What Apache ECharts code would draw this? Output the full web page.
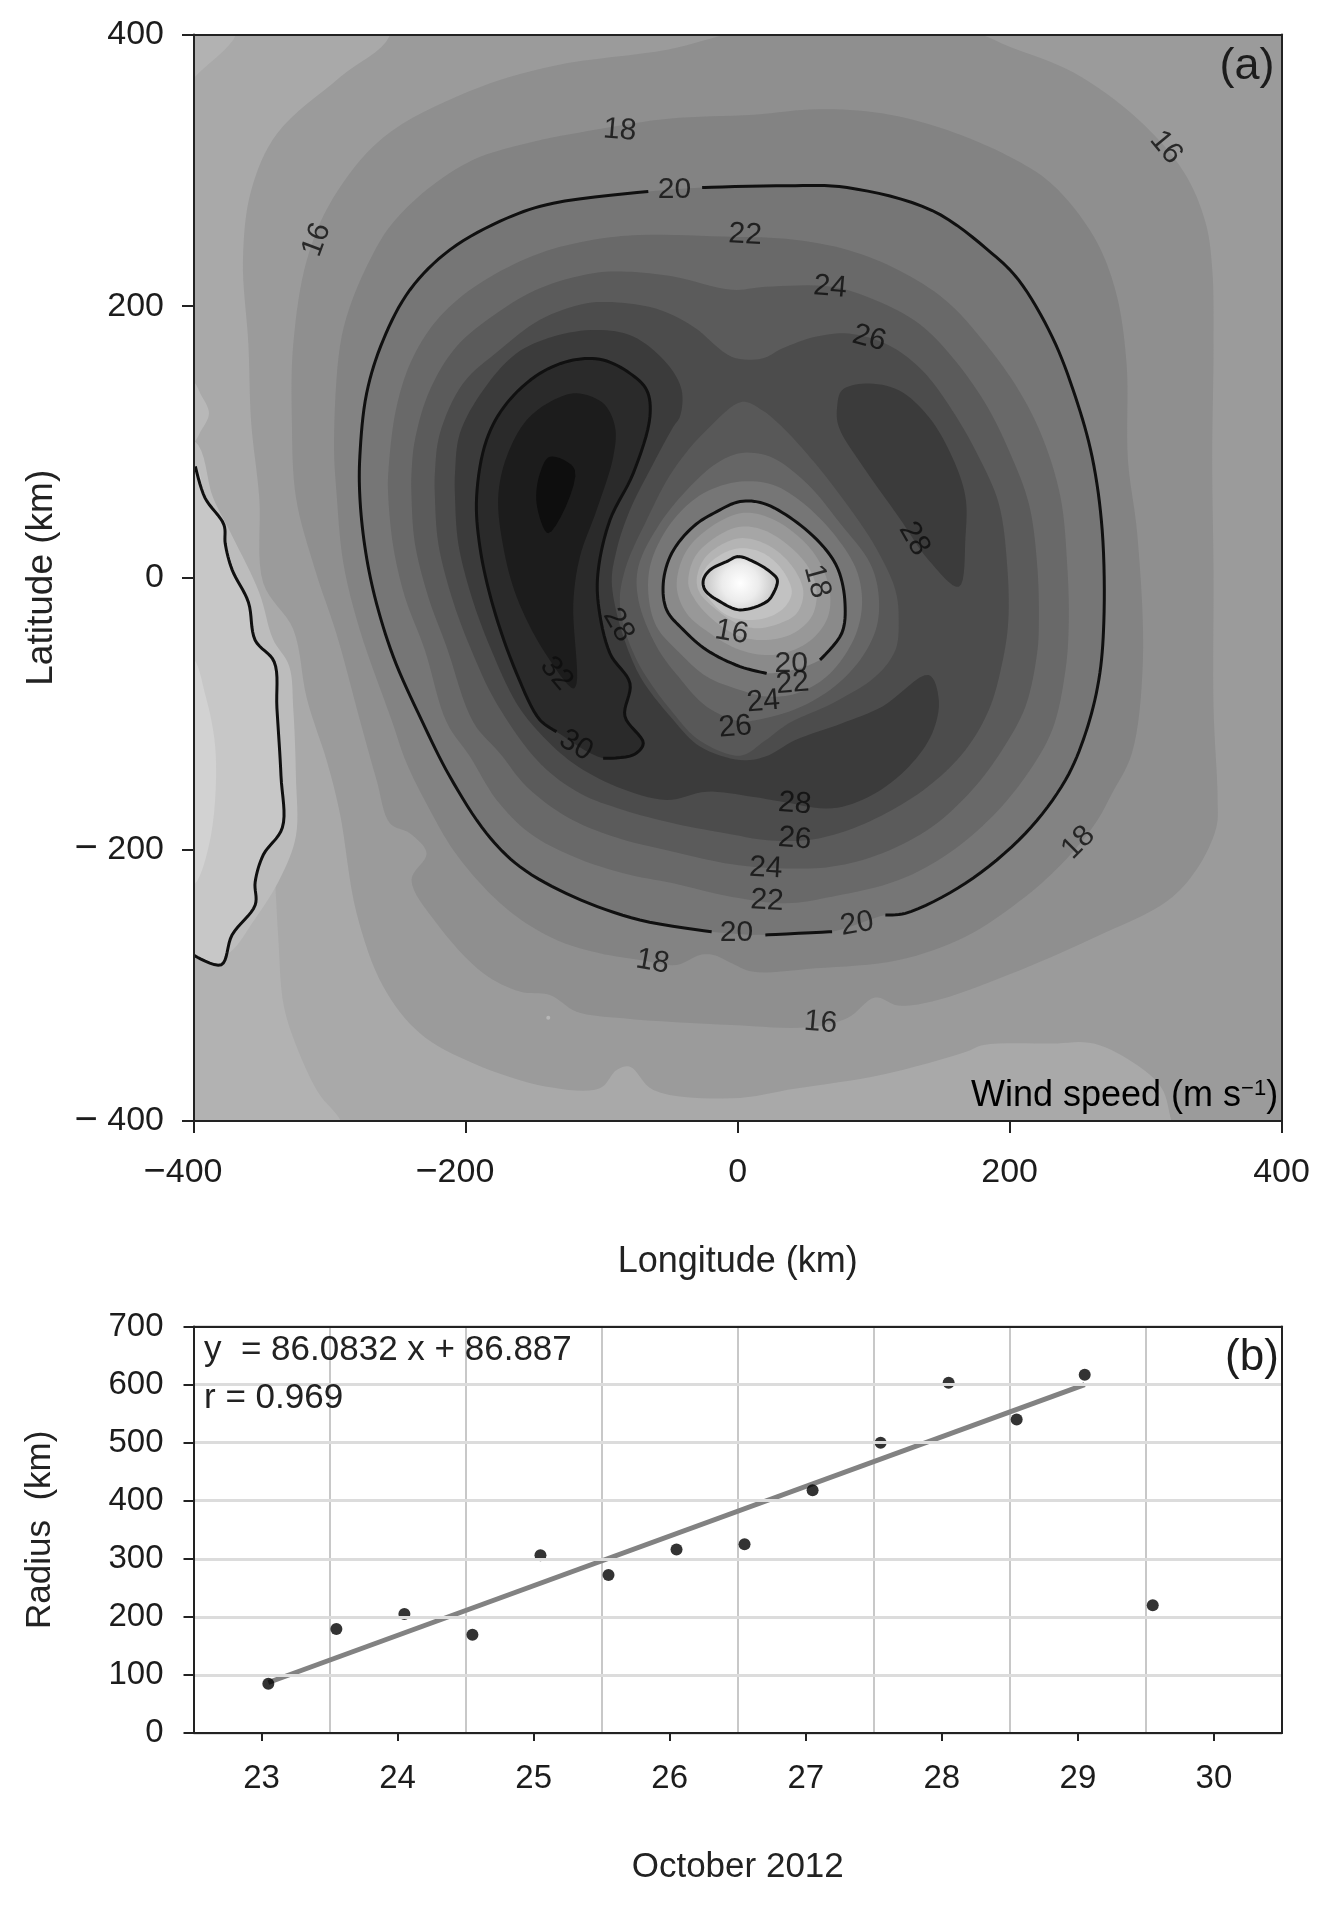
<!DOCTYPE html>
<html>
<head>
<meta charset="utf-8">
<style>html,body{margin:0;padding:0;background:#fff}#chart{width:1336px;height:1906px}</style>
<script src="https://cdn.jsdelivr.net/npm/echarts@6/dist/echarts.min.js"></script>
</head>
<body>
<div id="chart"></div>
<script>
// ---------- panel (a): wind-speed band outlines, [longitude km, latitude km] ----------
const band1 = [[-369,420],[-369,400],[-399,369],[-425,340],[-425,-100],[-345,-150],[-340,-230],[-338,-265],[-334,-315],[-323,-349],[-308,-380],[-292,-400],[-280,-440],[450,-440],[450,450],[-369,450]];
const leftBump = [[-420,146],[-402,146],[-395,135],[-389,121],[-395,108],[-402,98],[-420,98]];
const leftOuter = [[-400,101],[-386,59],[-372,31],[-352,-11],[-342,-45],[-330,-65],[-327,-96],[-325,-147],[-325,-190],[-336,-220],[-355,-251],[-377,-278],[-402,-278],[-440,-278],[-440,101]];
const contourLeft = [[-399,82],[-392,59],[-378,39],[-377,25],[-372,6],[-360,-18],[-355,-46],[-341,-62],[-339,-96],[-336,-146],[-335,-184],[-349,-204],[-355,-224],[-355,-241],[-372,-263],[-380,-285],[-400,-278]];
const leftEdge = [[-440,-278],[-440,82]];
const leftSliver = [[-420,-58],[-402,-58],[-392,-85],[-384,-130],[-389,-197],[-402,-228],[-420,-228]];
const band2 = [[-256,440],[-256,399],[-292,369],[-339,327],[-358,285],[-364,234],[-360,172],[-358,115],[-352,59],[-349,-4],[-327,-38],[-317,-89],[-302,-136],[-292.7,-173.4],[-280.4,-247],[-260.8,-301],[-233.8,-335.4],[-194.6,-357.5],[-140.6,-374.7],[-101.4,-375.9],[-89.1,-362.4],[-79.3,-360],[-62.1,-377.2],[-4.3,-383.3],[43,-376],[106,-366],[168,-349],[181,-344],[231,-343],[262,-343],[294,-359],[312,-376],[319,-400],[330,-440],[450,-440],[450,450]];
const band3 = [[-4,401],[40,408],[120,408],[175,401],[200,391],[247,372],[294,338],[328,299],[344,262],[349,228],[350,172],[349,87],[350,3],[350,-96],[353,-163],[352,-184],[338,-214],[316,-238],[262,-265],[200,-292],[143,-312],[118,-315],[101,-309],[81,-324],[52,-331],[-4.3,-329.3],[-84.2,-324.4],[-118.6,-319.5],[-138.2,-307.2],[-160.3,-304.7],[-187.2,-291.2],[-221.6,-254.4],[-240,-222.5],[-228.9,-202.9],[-241.2,-188.2],[-255.9,-180.8],[-265.7,-148.9],[-278,-104.7],[-295,-42],[-311,6],[-325,59],[-328,115],[-327,172],[-317,234],[-298,279],[-261,324],[-198,358],[-135,377],[-51,389]];
const band4 = [[-51,338],[12,341],[59,345],[106,342],[153,330],[200,310],[231,290],[262,251],[278,211],[286,158],[287,87],[294,31],[298,-62],[290,-129],[275.4,-158.7],[263.1,-180.8],[241.1,-207.8],[211.6,-234.8],[167.5,-264.3],[118.4,-281.5],[57.1,-287.6],[10.5,-290],[-4.3,-283.9],[-18,-277.7],[-27.8,-277.7],[-45,-285.1],[-72,-281.4],[-101.4,-276.5],[-133.3,-266.7],[-162.7,-249.5],[-187.2,-227.4],[-209.3,-200.4],[-226.5,-171],[-243.6,-136.6],[-254.7,-104.7],[-278,-38.5],[-290,10],[-295,60],[-297,100],[-292.7,170],[-285.3,199.7],[-270.6,234],[-255.9,258.6],[-228.9,285.6],[-194.6,307.7],[-155,320],[-104,330]];
const contour20a = [[-26.2,287.3],[36.5,288.7],[80.4,287.3],[143,270.4],[187.1,238.7],[206.7,219.1],[231.3,177.4],[248.4,133.2],[260.7,89],[268.1,35],[269.3,-32.8],[265.6,-75.3],[255.8,-114.6],[241.1,-148.9],[211.6,-188.2],[167.5,-225],[123.3,-247.1],[108.6,-248.3]];
const contour20b = [[69.4,-260.6],[20.3,-263]];
const contour20c = [[-19.2,-260.6],[-72,-252],[-121,-234.8],[-160.3,-212.7],[-184.8,-188.2],[-211.8,-146.4],[-232.6,-104.8],[-253.4,-58.1],[-267,-14],[-274.3,22.8],[-278,59.7],[-278,89.2],[-273,135.9],[-260.8,175.1],[-241.2,211.9],[-211.8,241.4],[-170,264.7],[-135.7,275.8],[-65.8,284.4]];
const band6 = [[-4.2,251],[20.3,250.5],[44.9,248.5],[81.6,241.2],[118.4,226.4],[152.8,204.4],[182.2,172.4],[206.7,138.1],[224,103.7],[237.4,59.5],[242.3,10.4],[243.5,-32.8],[241.1,-67.9],[231.3,-112.1],[211.6,-146.5],[187.1,-175.9],[155.2,-202.9],[118.4,-222.6],[69.4,-234.8],[35,-239.7],[-4.2,-235],[-47.4,-225],[-84.2,-217.6],[-121,-205.3],[-152.9,-188.2],[-177.4,-163.6],[-197,-131.7],[-214.2,-106.3],[-230.2,-53.2],[-244.9,-14],[-253.4,22.8],[-257.1,59.7],[-257.1,77],[-251,126],[-238.7,162.8],[-219.1,192.3],[-189.7,216.9],[-145.5,239],[-106.3,248.8],[-72,252.4]];
const band7 = [[-4.2,212],[20.3,214.2],[69.4,214.2],[101.3,204.4],[133.2,187.2],[157.7,162.6],[182.2,128.3],[199.4,93.9],[214.1,54.6],[220.2,10.4],[221.5,-32.8],[220.2,-55.6],[211.6,-94.9],[194.5,-126.8],[172.4,-156.3],[143,-183.3],[106.2,-202.9],[69.4,-212.7],[35,-214],[-4.2,-211],[-47.4,-201.7],[-91.6,-190.6],[-125.9,-175.9],[-155.3,-153.8],[-175,-129.2],[-194.6,-106.3],[-214.2,-50.8],[-227.7,-14],[-237.5,25.3],[-240,59.7],[-240,77],[-237.5,101.5],[-226.5,138.3],[-206.9,170.2],[-177.4,194.8],[-145.5,213.2],[-106.3,224.2],[-81.8,225.4],[-47.4,221.8]];
const band8 = [[-4.2,162.6],[17.9,161.4],[32.6,168.8],[57.1,177.4],[81.6,179.8],[111.1,171.2],[135.6,152.8],[157.7,123.4],[177.3,89],[192,54.6],[198.1,10.4],[199,-32],[194.5,-63],[184.7,-97.4],[167.5,-126.8],[143,-151.4],[113.5,-171],[81.6,-185.7],[52.2,-193.1],[20.3,-193.1],[-4.3,-189],[-47.4,-180.8],[-84.2,-171],[-116.1,-158.7],[-145.5,-136.6],[-177.4,-92.5],[-197,-50.8],[-210.5,-14],[-220.3,25.3],[-222.8,59.7],[-222.8,77],[-219.1,106.4],[-202,143.2],[-175,167.8],[-145.5,189.9],[-111.2,202.1],[-81.8,202.1],[-57.2,197.2],[-32.7,184.9]];
const band9West = [[-103.8,182.5],[-76.9,177.6],[-52.3,158],[-41.3,138.3],[-42.5,118.7],[-47.4,111.2],[-64.6,79.3],[-79.3,49.9],[-89.1,20.4],[-92.5,-6.6],[-74.4,-67.9],[-47.4,-104.7],[-27.8,-124.3],[1.7,-134.2],[20.3,-131.7],[42.4,-119.5],[76.7,-107.2],[106.2,-94.9],[140.5,-71.6],[147.9,-90],[143,-114.6],[125.8,-139.1],[98.8,-160],[69.4,-169.8],[32.6,-164.9],[10.5,-161.2],[-22.9,-157.5],[-52.3,-163.6],[-89.1,-153.8],[-121,-136.6],[-145.5,-114.5],[-162.7,-92.5],[-182.3,-50.8],[-195.8,-14],[-205.6,25.3],[-208,59.7],[-208,77],[-204.4,106.4],[-187.2,138.3],[-162.7,165.3],[-135.7,177.6]];
const band9East = [[76.7,138.1],[94,143],[118.4,138.1],[140.5,118.4],[157.7,89],[167.5,59.5],[167.5,30.1],[162.6,-6.7],[140.5,12.9],[118.4,44.8],[94,79.2],[74.3,111.1],[73.1,125.8]];
const contour30 = [[-99,-132.9],[-76.9,-130.5],[-69.5,-121.9],[-83,-102],[-79.3,-77.8],[-94,-55.7],[-102.6,-18.9],[-102.6,5.7],[-94,42.5],[-76.9,76.9],[-64.6,118.6],[-67,138.2],[-79.3,150.5],[-99,160.3],[-121,160.3],[-145.5,150.5],[-170,128.4],[-184.8,101.4],[-192.1,59.7],[-189.7,22.8],[-179.9,-21.3],[-162.7,-70.4],[-145.5,-104.7],[-133.3,-113.3]];
const band11 = [[-118.6,135.8],[-98.9,128.4],[-90.3,111.2],[-91.6,89.1],[-103.8,49.9],[-116.1,15.5],[-121,-18.9],[-118.6,-77.8],[-121,-81.5],[-143.1,-53.2],[-162.7,-14],[-172.5,22.8],[-176.2,59.7],[-170,89.1],[-155.3,116.1],[-135.7,130.8]];
const band12 = [[-138.2,89.1],[-119.8,79.3],[-139.4,32.7],[-148,54.8],[-145.5,76.9]];
const eye1 = [[3.2,129.5],[17.9,123.4],[32.6,111.1],[57.1,84.1],[81.6,52.2],[101.3,22.7],[116,-9.2],[118.4,-31.1],[116,-53.2],[101.3,-72.8],[69.4,-92.5],[37.5,-107.2],[20,-120],[1.7,-131],[-27.8,-120],[-47.4,-99.8],[-74.4,-60.5],[-86.6,-21.3],[-83,5.8],[-67,42.6],[-47.4,79.4],[-22.9,108.8]];
const eye2 = [[1.7,91.7],[23.7,89.2],[50.7,69.6],[75.3,40.1],[97.3,10.7],[103.5,-11.4],[102.2,-36],[90,-60.5],[67.9,-82.6],[40.9,-97.4],[13.9,-104.7],[1.7,-105.9],[-22.9,-94.9],[-43.7,-72.8],[-59.7,-50.7],[-73.1,-16.3],[-73.1,8.2],[-57.2,40.1],[-35.1,67.1],[-15.5,84.3]];
const eye3 = [[1.7,70.8],[26.2,68.3],[48.3,54.8],[70.3,32.7],[86.3,8.2],[91.2,-11.4],[90,-31.1],[82.6,-50.7],[65.4,-72.8],[43.4,-85.1],[21.3,-87.5],[1.7,-82.6],[-22.9,-72.8],[-42.5,-55.6],[-59.7,-36],[-65.8,-11.4],[-63.3,13.1],[-47.4,42.6],[-25.3,62.2]];
const contourEye = [[60.5,-60.5],[76.5,-40.9],[78.9,-18.8],[74,5.7],[63,22.9],[40.9,42.6],[18.8,54.8],[1.7,56.1],[-15.5,48.7],[-32.7,37.7],[-48.6,18],[-54.8,-4.1],[-52.3,-23.7],[-40,-38.4],[-22.9,-53.2],[1.7,-65.4],[21.3,-70.4]];
const eye5 = [[1.7,47.5],[21.3,45],[43.4,31.5],[59.3,13.1],[67.9,-11.4],[65.4,-31.1],[50.7,-48.3],[26.2,-56.8],[1.7,-53.2],[-20.4,-40.9],[-37.6,-26.2],[-44.9,-6.5],[-38.8,18],[-22.9,35.2]];
const eye6 = [[1.7,37.6],[18.8,35.2],[38.5,22.9],[53.2,5.7],[58.1,-11.4],[54.4,-28.6],[40.9,-40.9],[21.3,-45.8],[1.7,-43.3],[-18,-31.1],[-31.4,-16.3],[-36.4,-4.1],[-31.4,15.6],[-15.5,30.3]];
const eye7 = [[1.7,29.1],[16.4,26.6],[31.1,18],[43.4,3.3],[48.3,-11.4],[43.4,-26.2],[31.1,-33.5],[13.9,-37.2],[-0.8,-33.5],[-15.5,-23.7],[-27.8,-11.4],[-30.2,-1.6],[-25.3,13.1],[-13,23.8]];
const eye8 = [[1.7,21.7],[16.4,19.2],[28.6,10.7],[37.2,-1.6],[39.7,-11.4],[34.8,-21.3],[23.7,-28.6],[6.6,-31.1],[-8.2,-27.4],[-20.4,-16.3],[-27.3,-4.1],[-22.9,8.2],[-10.6,18]];
const contourCore = [[0.4,15.6],[11.5,11.9],[23.7,4.5],[29.1,-1.6],[26.2,-11.4],[21.3,-17.6],[1.7,-23.7],[-13,-17.6],[-24.1,-9],[-25.3,-1.6],[-20.4,5.7],[-8.2,11.9]];
const specks = [[-139.4,-323.9]];

// contour labels: longitude, latitude, value, tilt
const contourLabels = [
  [-86.8,329.4,'18',-5],[-46.5,285.5,'20',0],[5.4,252.4,'22',-3],[68,213.9,'24',-5],[96.7,176.3,'26',-15],
  [-309.7,248.8,'16',70],[315,316.8,'16',-50],[129.8,28.6,'28',-60],[58.2,-2.7,'18',-75],[-4.5,-40.3,'16',-10],
  [39.4,-63.5,'20',0],[40.3,-77.9,'22',5],[18.8,-91.3,'24',5],[-1.8,-110,'26',5],[-87.7,-34.9,'28',-60],
  [-133.4,-70.7,'32',-50],[-119,-123.5,'30',-30],[42,-166.5,'28',-5],[42,-192.4,'26',-5],[20.6,-213.9,'24',-3],
  [21.5,-238,'22',-3],[-0.9,-261.3,'20',0],[87.7,-255,'20',10],[-62.7,-282.8,'18',-10],[250.6,-195,'18',45],[60.9,-327.6,'16',-5]
];

// ---------- panel (b): radius against date ----------
const days = [23.05,23.55,24.05,24.55,25.05,25.55,26.05,26.55,27.05,27.55,28.05,28.55,29.05,29.55];
const radius = [85,179,205,169,306,272,316,325,418,500,603,540,617,220];
const fitDays = [23.05,29.05];
const fitRadius = [87,600];
const dayTicks = [23,24,25,26,27,28,29,30];
const dayGrid = [23.5,24.5,25.5,26.5,27.5,28.5,29.5];

const coreFill = new echarts.graphic.RadialGradient(0.5,0.5,0.62,[{offset:0,color:'#ffffff'},{offset:0.55,color:'#ececec'},{offset:1,color:'#cccccc'}]);
const layers = [
  [band1,'#a9a9a9'],[leftBump,'#b8b8b8'],[leftOuter,'#bcbcbc'],[[...contourLeft,...leftEdge],'#c7c7c7'],[leftSliver,'#d2d2d2'],
  [band2,'#9b9b9b'],[band3,'#8f8f8f'],[band4,'#838383'],
  [[...contour20a,...contour20b,...contour20c],'#767676'],
  [band6,'#696969'],[band7,'#5b5b5b'],[band8,'#4c4c4c'],[band9West,'#3b3b3b'],[band9East,'#3b3b3b'],
  [contour30,'#2a2a2a'],[band11,'#1c1c1c'],[band12,'#0e0e0e'],
  [eye1,'#585858'],[eye2,'#666666'],[eye3,'#767676'],[contourEye,'#8a8a8a'],
  [eye5,'#989898'],[eye6,'#a6a6a6'],[eye7,'#b4b4b4'],[eye8,'#c2c2c2'],[contourCore,coreFill]
];
// contour strokes: outline, closed?
const contourStrokes = [[contourLeft,false],[contour20a,false],[contour20b,false],[contour20c,false],[contour30,false],[contourEye,false],[contourCore,true]];

// centripetal Catmull-Rom through already-projected pixel points (rendering only)
function spline(P, closed) {
  const n = P.length, out = [], steps = 8;
  const at = i => closed ? P[(i + n) % n] : P[Math.max(0, Math.min(n - 1, i))];
  const knot = (a, b) => Math.max(Math.sqrt(Math.hypot(b[0]-a[0], b[1]-a[1])), 1e-3);
  const mix = (a, b, s) => [a[0] + (b[0]-a[0]) * s, a[1] + (b[1]-a[1]) * s];
  const segs = closed ? n : n - 1;
  for (let i = 0; i < segs; i++) {
    const p0 = at(i-1), p1 = at(i), p2 = at(i+1), p3 = at(i+2);
    const t1 = knot(p0, p1), t2 = t1 + knot(p1, p2), t3 = t2 + knot(p2, p3);
    for (let k = 0; k < steps; k++) {
      const t = t1 + (t2 - t1) * k / steps;
      const a1 = mix(p0, p1, t / t1), a2 = mix(p1, p2, (t - t1) / (t2 - t1)), a3 = mix(p2, p3, (t - t2) / (t3 - t2));
      const b1 = mix(a1, a2, t / t2), b2 = mix(a2, a3, (t - t1) / (t3 - t1));
      out.push(mix(b1, b2, (t - t1) / (t2 - t1)));
    }
  }
  out.push(closed ? P[0] : P[n-1]);
  return out;
}

const FONT = '"Liberation Sans", Arial, sans-serif';
const INK = '#1c1c1c';
const frameLine = {show:true,onZero:false,lineStyle:{color:'#222',width:2}};
const topGrid = {left:194,top:34.5,width:1087.5,height:1086.5,show:true,backgroundColor:'#b2b2b2',borderWidth:0};
const lowGrid = {left:193.5,top:1326.5,width:1088.5,height:406.5};
const axisText = {fontFamily:FONT,fontSize:34,color:INK,lineHeight:38};
const lowAxisText = {fontFamily:FONT,fontSize:33,color:INK};
const nameText = {fontFamily:FONT,fontSize:36,color:'#222'};
const frameAxis = (position,gridIndex,min,max) => ({
  type:'value',gridIndex,position,min,max,z:10,axisLine:frameLine,axisTick:{show:false},axisLabel:{show:false},splitLine:{show:false}
});

const option = {
  backgroundColor:'#fff',
  animation:false,
  grid:[topGrid,lowGrid],
  xAxis:[
    {type:'value',gridIndex:0,position:'bottom',min:-400,max:400,interval:200,z:10,
     axisLine:frameLine,axisTick:{length:12,lineStyle:{color:'#222',width:2}},
     axisLabel:{...axisText,margin:33,
       formatter:v => v < 0 ? '{dash|\u2212}{num|' + Math.abs(v) + '}' : String(v),
       rich:{dash:{...axisText,fontSize:38},num:{...axisText,padding:[0,22,0,0]}}},
     splitLine:{show:false},
     name:'Longitude (km)',nameLocation:'middle',nameGap:123,nameTextStyle:nameText},
    frameAxis('top',0,-400,400),
    {type:'value',gridIndex:1,position:'bottom',min:22.5,max:30.5,interval:0.5,z:10,
     axisLine:frameLine,axisTick:{length:8,customValues:dayTicks,lineStyle:{color:'#222',width:2}},
     axisLabel:{...lowAxisText,margin:29,customValues:dayTicks},splitLine:{show:false},
     name:'October 2012',nameLocation:'middle',nameGap:117,nameTextStyle:{...nameText,fontSize:35}},
    frameAxis('top',1,22.5,30.5)
  ],
  yAxis:[
    {type:'value',gridIndex:0,position:'left',min:-400,max:400,interval:200,z:10,
     axisLine:frameLine,axisTick:{length:12,lineStyle:{color:'#222',width:2}},
     axisLabel:{...axisText,margin:30,
       formatter:v => v < 0 ? '{dash|\u2212}\u00a0{num|' + Math.abs(v) + '}' : String(v),
       rich:{dash:{...axisText,fontSize:40},num:{...axisText}}},
     splitLine:{show:false},
     name:'Latitude (km)',nameLocation:'middle',nameGap:134,nameTextStyle:{...nameText,fontSize:37}},
    frameAxis('right',0,-400,400),
    {type:'value',gridIndex:1,position:'left',min:0,max:700,interval:100,z:10,
     axisLine:frameLine,axisTick:{length:10,lineStyle:{color:'#222',width:2}},
     axisLabel:{...lowAxisText,margin:30},splitLine:{show:true,lineStyle:{color:'#dcdcdc',width:3}},
     name:'Radius  (km)',nameLocation:'middle',nameGap:136,nameTextStyle:{...nameText,fontSize:35}},
    frameAxis('right',1,0,700)
  ],
  series:[
    {type:'custom',xAxisIndex:0,yAxisIndex:0,coordinateSystem:'cartesian2d',clip:true,silent:true,z:1,
     data:layers.map((l,i)=>[0,0,i]),encode:{x:0,y:1},
     renderItem:(params,api)=>{
       const layer = layers[api.value(2)];
       return {type:'polygon',shape:{points:spline(layer[0].map(p=>api.coord(p)),true)},style:{fill:layer[1]}};
     }},
    {type:'custom',xAxisIndex:0,yAxisIndex:0,coordinateSystem:'cartesian2d',clip:true,silent:true,z:4,
     data:contourStrokes.map((l,i)=>[0,0,i]),encode:{x:0,y:1},
     renderItem:(params,api)=>{
       const c = contourStrokes[api.value(2)];
       return {type:'polyline',shape:{points:spline(c[0].map(p=>api.coord(p)),c[1])},style:{fill:null,stroke:'#101010',lineWidth:3}};
     }},
    {type:'scatter',xAxisIndex:0,yAxisIndex:0,symbolSize:1,silent:true,z:5,
     itemStyle:{color:'rgba(0,0,0,0)'},
     data:contourLabels.map(d=>({value:[d[0],d[1]],name:d[2],
       label:{show:true,position:'inside',formatter:d[2],rotate:d[3],fontFamily:FONT,fontSize:30,color:'#0c0c0c'}}))},
    {type:'scatter',xAxisIndex:0,yAxisIndex:0,data:specks,symbolSize:4,silent:true,z:3,itemStyle:{color:'#bdbdbd'}},
    {type:'line',xAxisIndex:2,yAxisIndex:2,data:fitDays.map((d,i)=>[d,fitRadius[i]]),symbol:'none',silent:true,z:3,
     lineStyle:{color:'#828282',width:5},
     markLine:{silent:true,symbol:'none',animation:false,z:1,label:{show:false},
       lineStyle:{color:'#c8c8c8',width:2,type:'solid'},data:dayGrid.map(v=>({xAxis:v}))}},
    {type:'scatter',xAxisIndex:2,yAxisIndex:2,data:days.map((d,i)=>[d,radius[i]]),symbol:'circle',symbolSize:12,silent:true,z:4,
     itemStyle:{color:'#000'}}
  ],
  graphic:[
    {type:'text',x:1247,y:67,z:20,style:{text:'(a)',font:'45px '+FONT,fill:'#1c1c1c',align:'center',verticalAlign:'middle'}},
    {type:'text',x:1252,y:1358,z:20,style:{text:'(b)',font:'44px '+FONT,fill:'#1c1c1c',align:'center',verticalAlign:'middle'}},
    {type:'text',x:971,y:1096,z:20,style:{text:'{a|Wind speed (m s}{b|\u22121}{a|)}',align:'left',verticalAlign:'middle',
      rich:{a:{font:'36px '+FONT,color:'#1e1e1e'},b:{font:'22px '+FONT,color:'#1e1e1e',verticalAlign:'top',padding:[0,0,14,0]}}}},
    {type:'text',x:204,y:1350,z:20,style:{text:'y  = 86.0832 x + 86.887',font:'35px '+FONT,fill:'#222',align:'left',verticalAlign:'middle'}},
    {type:'text',x:204,y:1398,z:20,style:{text:'r = 0.969',font:'35px '+FONT,fill:'#222',align:'left',verticalAlign:'middle'}}
  ]
};
const chart = echarts.init(document.getElementById('chart'),null,{renderer:'canvas',width:1336,height:1906});
chart.setOption(option);
</script>
</body>
</html>
